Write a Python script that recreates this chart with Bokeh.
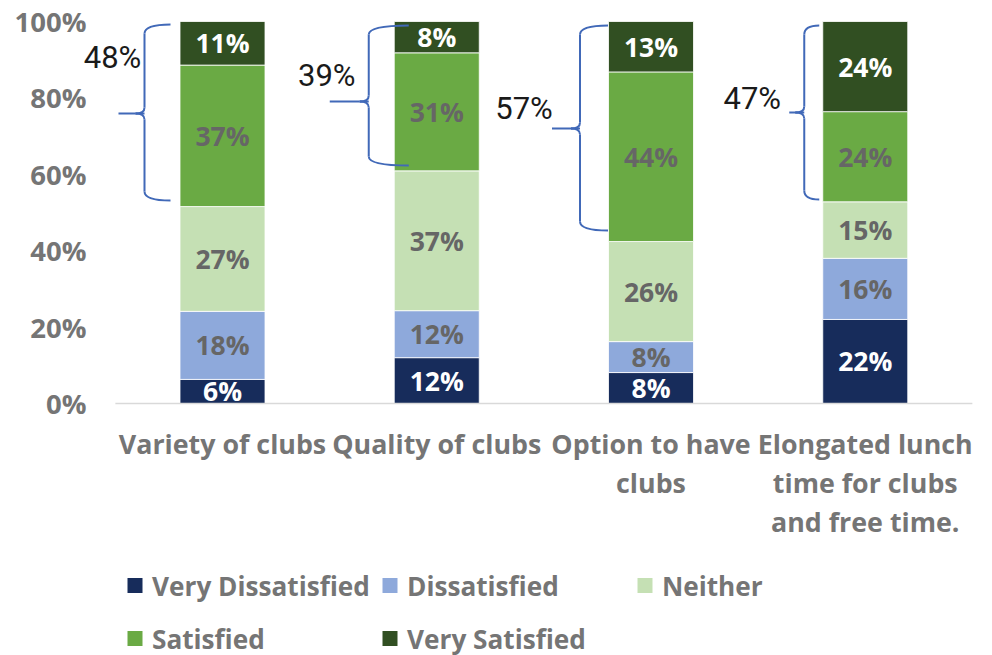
import numpy as np
from bokeh.plotting import figure
from bokeh.models import Range1d, ColumnDataSource
from bokeh.core.properties import value
from bokeh.embed import file_html
from bokeh.resources import INLINE

# ---------------- data ----------------
categories = ["Variety of clubs", "Quality of clubs", "Option to have clubs",
              "Elongated lunch time for clubs and free time."]
category_lines = [["Variety of clubs"], ["Quality of clubs"],
                  ["Option to have", "clubs"],
                  ["Elongated lunch", "time for clubs", "and free time."]]
series_names = ["Very Dissatisfied", "Dissatisfied", "Neither", "Satisfied", "Very Satisfied"]
very_dissatisfied = [6.3, 12.0, 8.1, 22.0]
dissatisfied = [17.8, 12.3, 8.1, 16.0]
neither = [27.4, 36.6, 26.2, 14.8]
satisfied = [37.0, 30.9, 44.4, 23.6]
very_satisfied = [11.4, 8.2, 13.2, 23.6]
brace_labels = ["48%", "39%", "57%", "47%"]
y_ticks = [0, 20, 40, 60, 80, 100]
y_tick_labels = ["0%", "20%", "40%", "60%", "80%", "100%"]

# ---------------- styles / layout ----------------
colors = ["#172C5B", "#8EA9DB", "#C5E0B4", "#6AAA44", "#314F22"]
label_colors = ["white", "#666666", "#666666", "#666666", "white"]
GRAY = "#757575"
BOLD_FONT = "Open Sans"
W, H = 992, 655
PX = 214.25     # px per category unit
PY = 3.82       # px per percent
X0_PX, Y0_PX = 222.0, 403.0   # pixel of category 0 centre / 0% line

def xu(px):
    return (px - X0_PX) / PX

def yu(py):
    return (Y0_PX - py) / PY

p = figure(width=W, height=H, output_backend="svg", toolbar_location=None,
           x_axis_type=None, y_axis_type=None, min_border=0,
           x_range=Range1d(xu(0), xu(W)), y_range=Range1d(yu(H), yu(0)))
p.outline_line_color = None
p.background_fill_color = "white"
p.border_fill_color = "white"

n = len(categories)
xs = np.arange(n, dtype=float)
stack = np.array([very_dissatisfied, dissatisfied, neither, satisfied, very_satisfied])
stack_pct = stack / stack.sum(axis=0) * 100.0
bottoms = np.vstack([np.zeros(n), np.cumsum(stack_pct, axis=0)[:-1]])
tops = bottoms + stack_pct

bar_w = 85.0 / PX
for k, name in enumerate(series_names):
    src = ColumnDataSource(dict(x=xs, bottom=bottoms[k], top=tops[k],
                                mid=(bottoms[k] + tops[k]) / 2,
                                lab=[f"{v:.0f}%" for v in stack[k]]))
    p.vbar(x="x", bottom="bottom", top="top", width=bar_w, source=src,
           fill_color=colors[k], line_color="white", line_width=0.8)
    p.text(x="x", y="mid", text="lab", source=src, text_align="center",
           text_baseline="middle", text_color=label_colors[k],
           text_font=value(BOLD_FONT), text_font_style="bold",
           text_font_size="26.5px")

# x axis line
p.segment(x0=[-0.5], y0=[0], x1=[n - 0.5], y1=[0], line_color="#D9D9D9", line_width=1.5)

# y tick labels
p.text(x=[xu(86)] * len(y_ticks), y=y_ticks, text=y_tick_labels,
       text_align="right", text_baseline="middle", text_color=GRAY,
       text_font=value(BOLD_FONT), text_font_style="bold", text_font_size="27.5px")

# category labels
line_gap = 39.0 / PY
for i, lines in enumerate(category_lines):
    ys = [yu(443) - j * line_gap for j in range(len(lines))]
    p.text(x=[xs[i]] * len(lines), y=ys, text=lines, text_align="center",
           text_baseline="middle", text_color=GRAY, text_font=value(BOLD_FONT),
           text_font_style="bold", text_font_size="26.8px")

# legend (manual, Excel-like grid)
leg_cols = 3
leg_x0, leg_dx = 134.5, 255.0
leg_y0, leg_dy = 585.0, 53.0
for k, name in enumerate(series_names):
    r, c = divmod(k, leg_cols)
    cx = xu(leg_x0 + c * leg_dx)
    cy = yu(leg_y0 + r * leg_dy)
    p.rect(x=[cx], y=[cy], width=15 / PX, height=15 / PY,
           fill_color=colors[k], line_color=None)
    p.text(x=[cx + 17 / PX], y=[cy], text=[name], text_align="left",
           text_baseline="middle", text_color=GRAY, text_font=value(BOLD_FONT),
           text_font_style="bold", text_font_size="26.2px")

# braces (annotation) : offsets in px relative to category centre
brace_end = [-52, -28, -43, -46]
brace_vert = [-78, -68, -71, -61]
brace_tipx = [-104, -107, -99, -76]
brace_lblx = [-110, -110, -127, -113]
brace_top_py = [24, 25, 25, 25]
brace_bot_py = [200, 165, 230, 199]
brace_tip_py = [113, 101, 128, 112]
brace_lbl_py = [57, 75, 108, 98]
BLUE = "#4169B8"
for i in range(n):
    cpx = X0_PX + i * PX
    e = xu(cpx + brace_end[i]); v = xu(cpx + brace_vert[i]); t = xu(cpx + brace_tipx[i])
    h = 9 / PX
    top = yu(brace_top_py[i]); bot = yu(brace_bot_py[i]); tip = yu(brace_tip_py[i])
    r = 9 / PY; rt = 6 / PY
    p.quadratic(x0=[e, v, v, v - h, v], y0=[top, tip + rt, tip, tip, bot + r],
                x1=[v, v - h, v - h, v, e], y1=[top - r, tip, tip, tip - rt, bot],
                cx=[v, v, v, v, v], cy=[top, tip, tip, tip, bot],
                line_color=BLUE, line_width=2)
    p.segment(x0=[v, v, v - h], y0=[top - r, tip - rt, tip],
              x1=[v, v, t], y1=[tip + rt, bot + r, tip],
              line_color=BLUE, line_width=2)
    p.text(x=[xu(cpx + brace_lblx[i])], y=[yu(brace_lbl_py[i])], text=[brace_labels[i]],
           text_align="center", text_baseline="middle", text_color="#1A1A1A",
           text_font=value("Roboto"), text_font_size="31px")

open("out.html", "w").write(file_html(p, INLINE))
